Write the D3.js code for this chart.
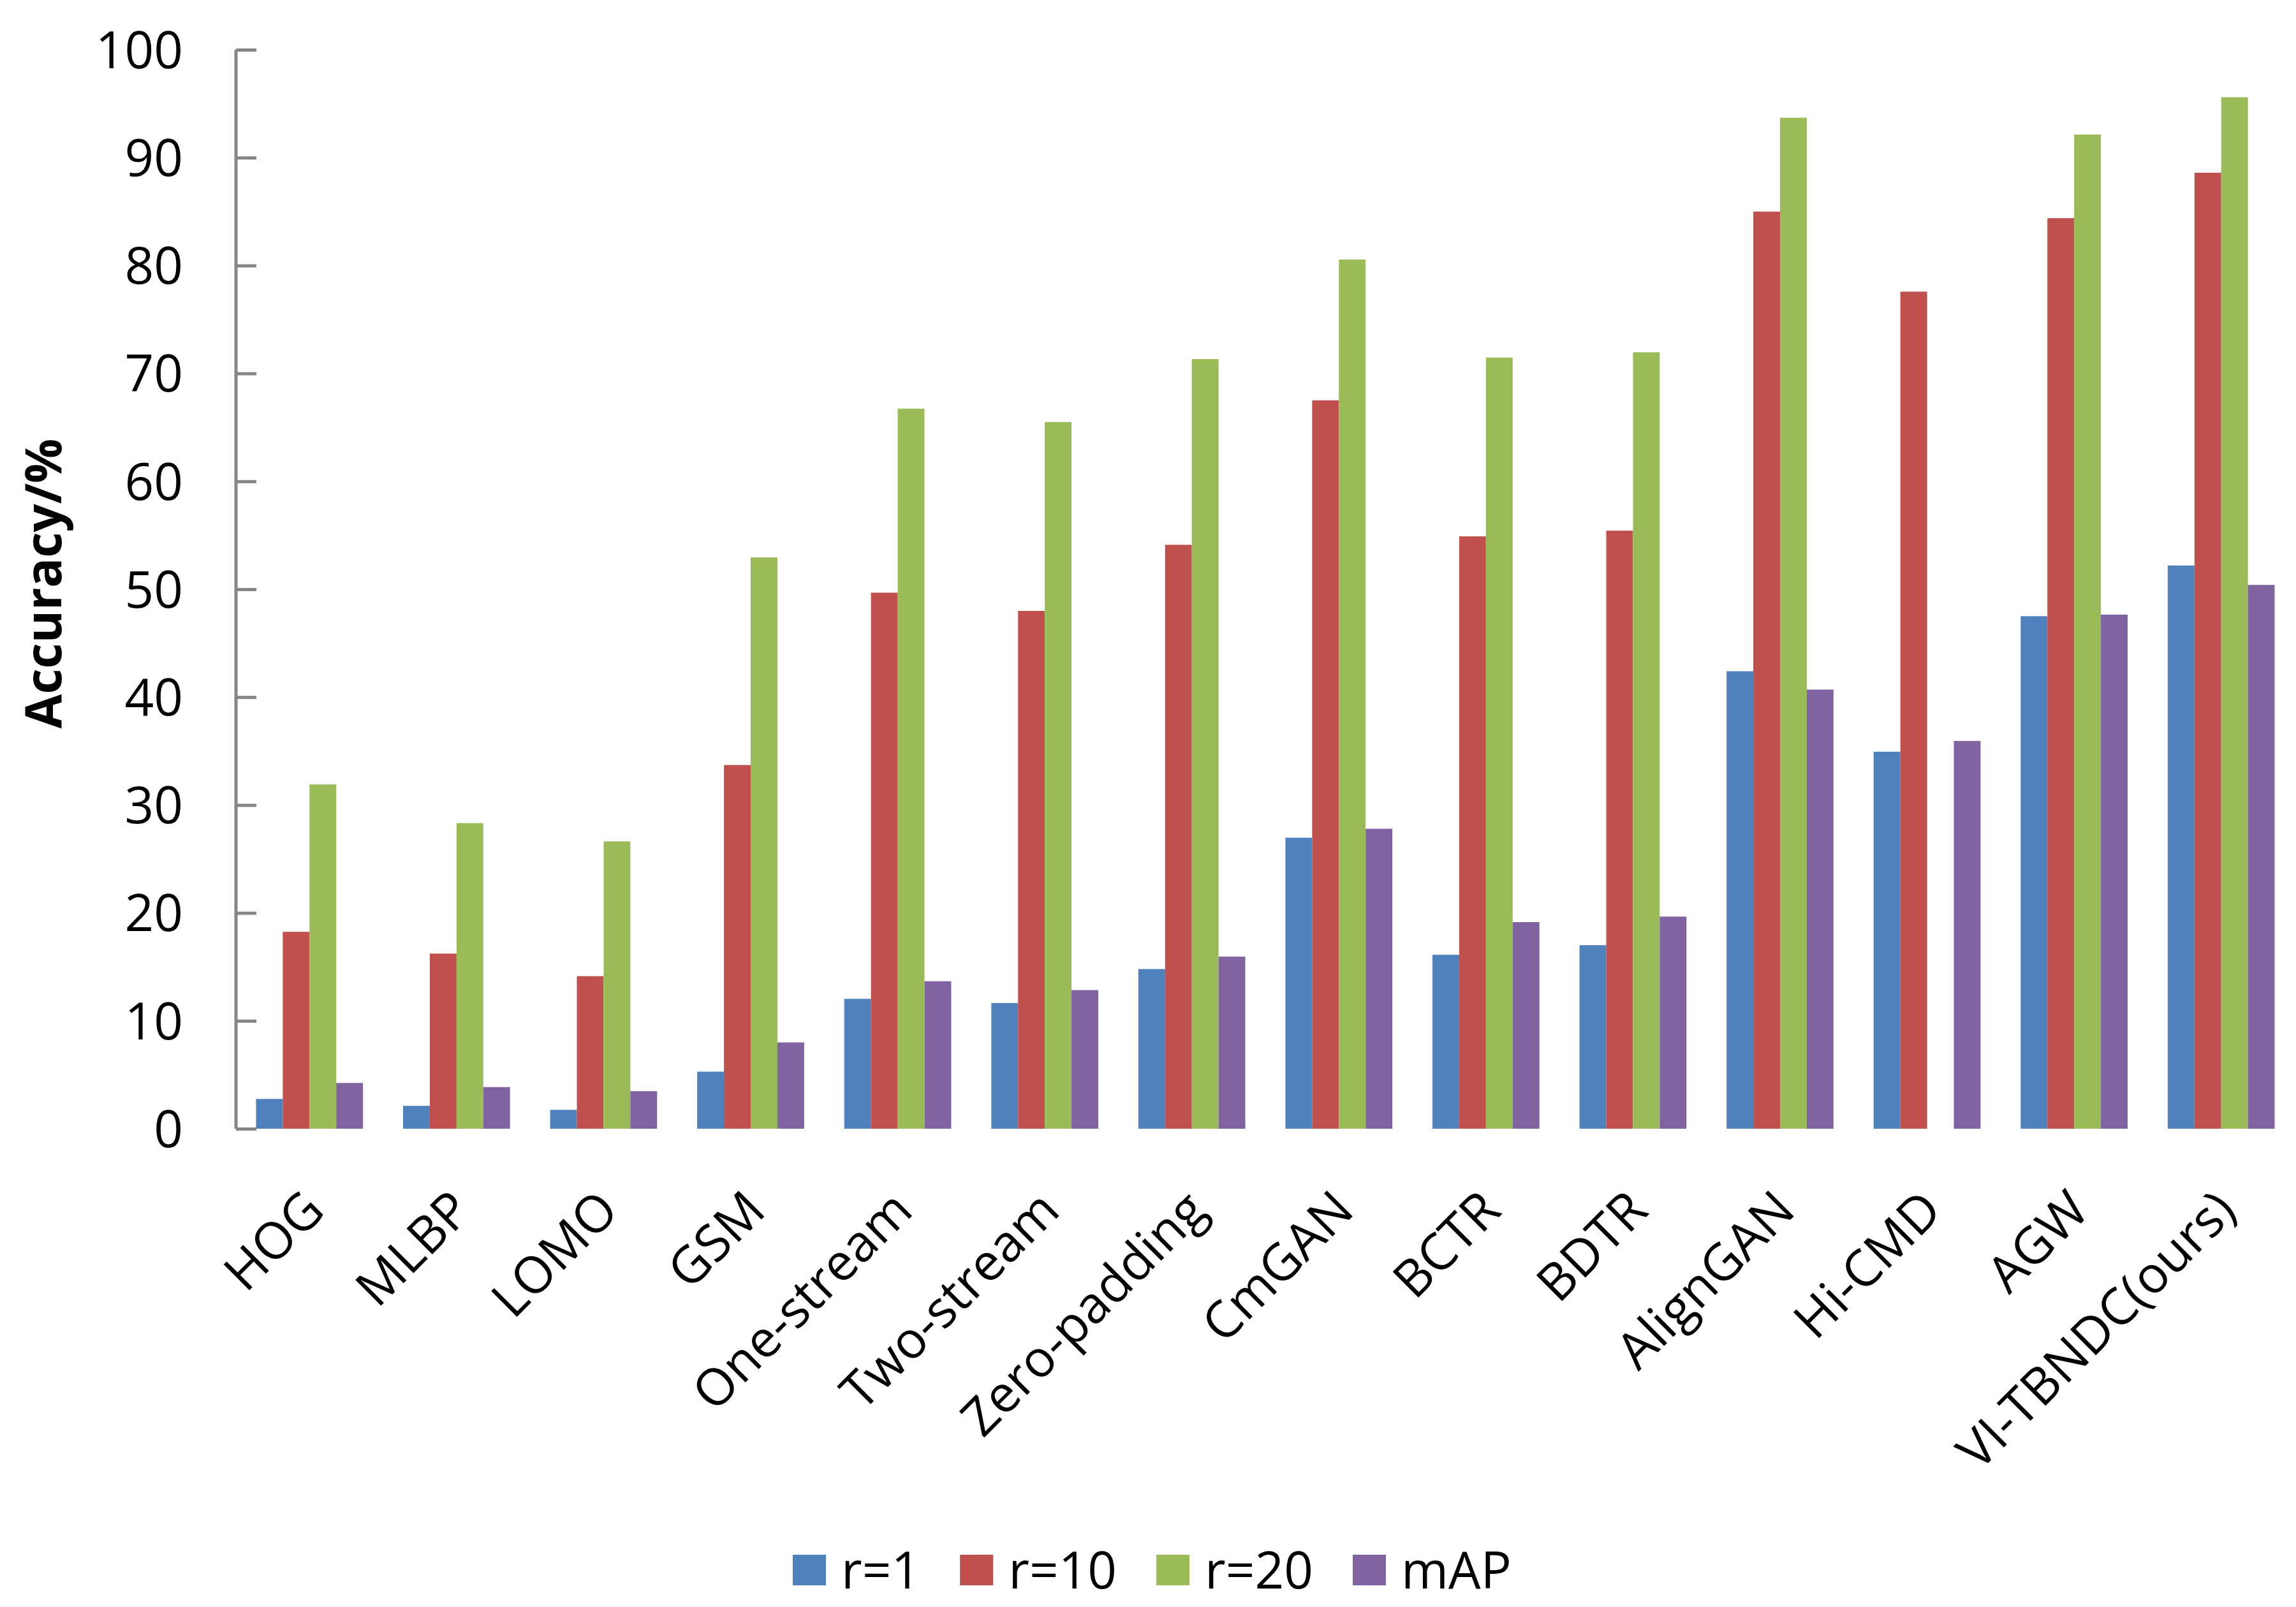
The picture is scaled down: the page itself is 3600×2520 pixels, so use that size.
<!DOCTYPE html>
<html>
<head>
<meta charset="utf-8">
<script src="https://cdn.jsdelivr.net/npm/d3@7/dist/d3.min.js"></script>
<style>
  html, body { margin: 0; padding: 0; background: #fff; }
  text { font-family: "Open Sans", sans-serif; fill: #000; }
</style>
</head>
<body>
<div id="chart"></div>
<script>
const svgWidth = 3600
const svgHeight = 2520

// data
const methods = ["HOG", "MLBP", "LOMO", "GSM", "One-stream", "Two-stream", "Zero-padding",
  "CmGAN", "BCTR", "BDTR", "AlignGAN", "Hi-CMD", "AGW", "VI-TBNDC(ours)"]
const seriesNames = ["r=1", "r=10", "r=20", "mAP"]
const rank1 = [2.76, 2.12, 1.75, 5.29, 12.04, 11.65, 14.80, 26.97, 16.12, 17.01, 42.4, 34.94, 47.50, 52.2]
const rank10 = [18.25, 16.23, 14.14, 33.71, 49.68, 47.99, 54.12, 67.51, 54.90, 55.43, 85.0, 77.58, 84.39, 88.6]
const rank20 = [31.91, 28.32, 26.63, 52.95, 66.74, 65.50, 71.33, 80.56, 71.47, 71.96, 93.7, null, 92.14, 95.6]
const mAP = [4.24, 3.86, 3.48, 8.00, 13.67, 12.85, 15.95, 27.80, 19.15, 19.66, 40.7, 35.94, 47.65, 50.4]
const yTicks = [0, 10, 20, 30, 40, 50, 60, 70, 80, 90, 100]
const colors = ["#4F81BD", "#C0504D", "#9BBB59", "#8064A2"]

let margin = { top: 78, right: 2, bottom: 750, left: 370 }
let width = svgWidth - margin.left - margin.right
let height = svgHeight - margin.top - margin.bottom

let seriesValues = [rank1, rank10, rank20, mAP]

let svg = d3.select("#chart")
  .append("svg")
  .attr("width", svgWidth)
  .attr("height", svgHeight)

svg.append("rect").attr("width", svgWidth).attr("height", svgHeight).attr("fill", "#fff")

let chartGroup = svg.append("g")
  .attr("transform", `translate(${margin.left}, ${margin.top})`)

// Excel style gap width 150%
let x0 = d3.scaleBand()
  .domain(methods)
  .range([0, width])
  .paddingInner(1.5 / 5.5)
  .paddingOuter(0.75 / 5.5)

let x1 = d3.scaleBand()
  .domain(seriesNames)
  .range([0, x0.bandwidth()])

let y = d3.scaleLinear().domain([0, 100]).range([height, 0])

// y axis, ticks pointing inward
let leftAxis = d3.axisRight(y).tickValues(yTicks).tickSize(32).tickFormat("")
let yAxis = chartGroup.append("g").call(leftAxis)
yAxis.select(".domain").attr("stroke", "#868686").attr("stroke-width", 5).attr("d", `M0,0V${height}`)
yAxis.selectAll(".tick line").attr("stroke", "#868686").attr("stroke-width", 5)

chartGroup.selectAll(".ylab")
  .data(yTicks)
  .enter()
  .append("text")
  .attr("class", "ylab")
  .attr("x", -83)
  .attr("y", d => y(d))
  .attr("dy", "0.36em")
  .attr("text-anchor", "end")
  .style("font-size", "80px")
  .text(d => d)

// bars
let groups = chartGroup.selectAll(".grp")
  .data(methods)
  .enter()
  .append("g")
  .attr("class", "grp")
  .attr("transform", d => `translate(${x0(d)}, 0)`)

groups.selectAll("rect")
  .data((d, i) => seriesNames.map((s, j) => ({ s: s, v: seriesValues[j][i], j: j })))
  .enter()
  .filter(d => d.v != null)
  .append("rect")
  .attr("x", d => x1(d.s))
  .attr("y", d => y(d.v))
  .attr("width", x1.bandwidth())
  .attr("height", d => height - y(d.v))
  .attr("fill", d => colors[d.j])

// rotated category labels
chartGroup.selectAll(".xlab")
  .data(methods)
  .enter()
  .append("text")
  .attr("class", "xlab")
  .attr("text-anchor", "end")
  .attr("transform", d => `translate(${x0(d) + x0.bandwidth() / 2 + 27}, ${height + 132}) rotate(-45)`)
  .style("font-size", "80px")
  .text(d => d)

// y axis title
svg.append("text")
  .attr("transform", `translate(96, 915) rotate(-90)`)
  .attr("text-anchor", "middle")
  .style("font-size", "78px")
  .style("font-weight", "bold")
  .text("Accuracy/%")

// legend
let legend = svg.append("g").attr("transform", "translate(1243, 2438)")
let lx = 0
seriesNames.forEach((s, j) => {
  legend.append("rect")
    .attr("x", lx).attr("y", 0)
    .attr("width", 52).attr("height", 48)
    .attr("fill", colors[j])
  let t = legend.append("text")
    .attr("x", lx + 76)
    .attr("y", 53)
    .style("font-size", "80px")
    .text(s)
  lx += 76 + t.node().getComputedTextLength() + 62
})
</script>
</body>
</html>
